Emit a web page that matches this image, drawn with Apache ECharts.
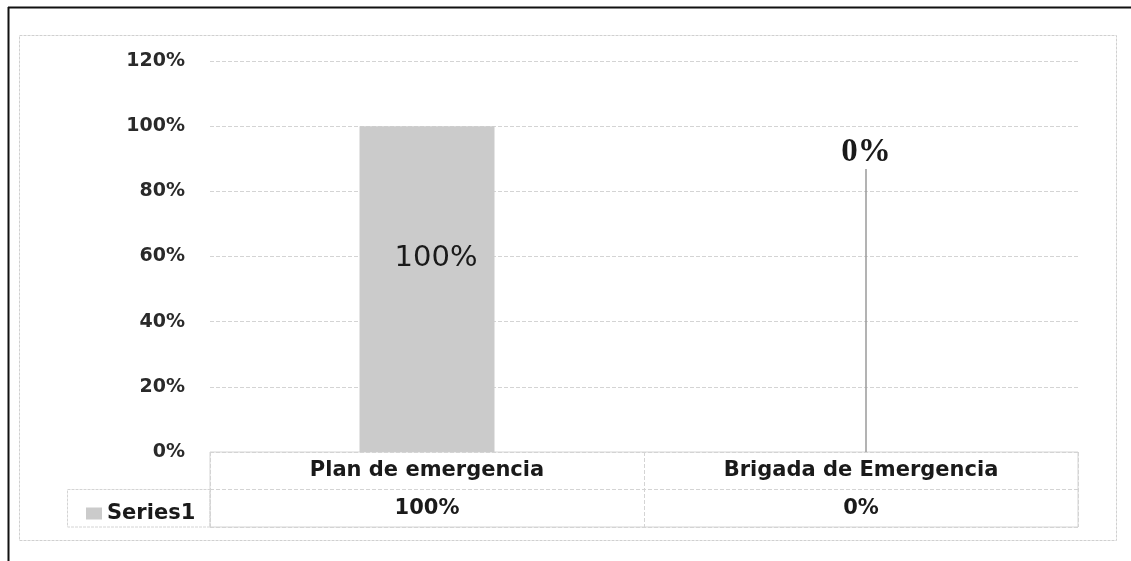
<!DOCTYPE html>
<html>
<head>
<meta charset="utf-8">
<script src="https://cdn.jsdelivr.net/npm/echarts@6/dist/echarts.min.js"></script>
<style>html,body{margin:0;padding:0;background:#fff}#c{width:1131px;height:561px}</style>
</head>
<body>
<div id="c"></div>
<script>
// Data
const categories = ['Plan de emergencia', 'Brigada de Emergencia'];
const seriesName = 'Series1';
const values = [1.00, 0.00];
const yTicks = [0, 0.2, 0.4, 0.6, 0.8, 1.0, 1.2];

const pct = v => Math.round(v * 100) + '%';
const sans = 'DejaVu Sans';
const gridGray = '#d4d4d4';
const textDark = '#1a1a1a';

const chart = echarts.init(document.getElementById('c'), null, {renderer: 'canvas'});
chart.setOption({
  animation: false,
  backgroundColor: '#fff',
  grid: [
    {left: 210, right: 53, top: 61, bottom: 109},
    {left: 210, right: 53, top: 452, height: 75, show: true, borderColor: gridGray, borderWidth: 1}
  ],
  legend: {
    data: [seriesName], left: 81, top: 498, icon: 'rect', itemWidth: 16, itemHeight: 12,
    textStyle: {fontFamily: sans, fontWeight: 'bold', fontSize: 21, color: textDark},
    selectedMode: false
  },
  xAxis: [
    {type: 'category', gridIndex: 0, data: categories, axisLine: {show: false}, axisTick: {show: false}, axisLabel: {show: false}},
    {type: 'category', gridIndex: 1, data: categories, axisLine: {show: false}, axisTick: {show: false}, axisLabel: {show: false},
     splitLine: {show: true, lineStyle: {color: gridGray, type: 'dashed', width: 1}}}
  ],
  yAxis: [
    {type: 'value', gridIndex: 0, min: yTicks[0], max: yTicks[yTicks.length - 1], interval: 0.2,
     axisLine: {show: false}, axisTick: {show: false},
     axisLabel: {formatter: pct, margin: 25, fontFamily: sans, fontWeight: 'bold', fontSize: 19, color: '#2a2a2a'},
     splitLine: {lineStyle: {color: gridGray, type: 'dashed', width: 1}}},
    {type: 'value', gridIndex: 1, min: 0, max: 2, interval: 1, axisLine: {show: false}, axisTick: {show: false},
     axisLabel: {show: false}, splitLine: {show: true, lineStyle: {color: gridGray, type: 'dashed', width: 1}}}
  ],
  series: [
    {
      name: seriesName, type: 'bar', xAxisIndex: 0, yAxisIndex: 0, barWidth: 135,
      itemStyle: {color: '#cbcbcb'},
      data: values.map((v, i) => i === 0 ? {
        value: v,
        label: {show: true, position: 'inside', formatter: p => pct(p.value),
                fontFamily: sans, fontSize: 29, color: textDark}
      } : {
        value: v,
        label: {show: true, position: 'top', formatter: p => pct(p.value),
                fontFamily: 'Liberation Serif', fontWeight: 'bold', fontSize: 33, color: textDark}
      }),
      labelLayout: p => p.dataIndex === 1 ? {dx: 5, dy: -278} : {dx: 9, dy: -31},
      labelLine: {show: true, lineStyle: {color: '#9a9a9a', width: 1.5}}
    },
    {
      type: 'scatter', xAxisIndex: 1, yAxisIndex: 1, symbolSize: 0, silent: true,
      itemStyle: {opacity: 1},
      data: categories.map((c, i) => ({value: [i, 1.5], name: c})),
      label: {show: true, position: 'inside', formatter: p => p.name, opacity: 1,
              fontFamily: sans, fontWeight: 'bold', fontSize: 21, color: textDark}
    },
    {
      type: 'scatter', xAxisIndex: 1, yAxisIndex: 1, symbolSize: 0, silent: true,
      itemStyle: {opacity: 1},
      data: values.map((v, i) => ({value: [i, 0.5], name: pct(v)})),
      label: {show: true, position: 'inside', formatter: p => p.name, opacity: 1,
              fontFamily: sans, fontWeight: 'bold', fontSize: 21, color: textDark}
    }
  ],
  graphic: [
    {type: 'rect', shape: {x: 19.5, y: 35.5, width: 1097, height: 505}, style: {fill: 'none', stroke: '#d0d0d0', lineWidth: 1, lineDash: [3, 1]}, silent: true, z: -1},
    {type: 'rect', shape: {x: 67.5, y: 489.5, width: 142.5, height: 37.5}, style: {fill: 'none', stroke: gridGray, lineWidth: 1, lineDash: [3, 1]}, silent: true},
    {type: 'line', shape: {x1: 8, y1: 7.5, x2: 1131, y2: 7.5}, style: {stroke: '#111', lineWidth: 2}, silent: true},
    {type: 'line', shape: {x1: 8.5, y1: 7, x2: 8.5, y2: 561}, style: {stroke: '#111', lineWidth: 2}, silent: true}
  ]
});
</script>
</body>
</html>
